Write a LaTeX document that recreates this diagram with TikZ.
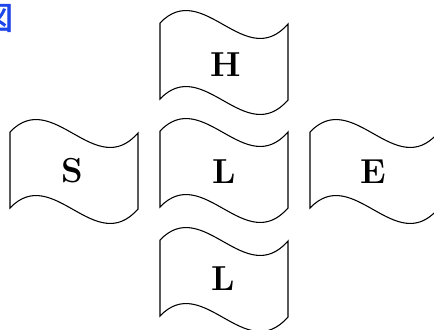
\documentclass[tikz,border=0pt]{standalone}
\usepackage{fontspec}
\newfontfamily\cjk[FakeBold=2]{Noto Sans CJK JP}
\usepackage{xcolor}
\definecolor{figblue}{RGB}{30,70,235}

\begin{document}
\begin{tikzpicture}[x=0.75pt,y=0.75pt,yscale=-1,xscale=1,
  flagline/.style={line width=0.8pt},
  flagtext/.style={inner sep=0.75pt, font=\bfseries\fontsize{26}{28}\selectfont}]
\useasboundingbox (0,0) rectangle (434,329);

%Shape: Wave [id:flagH]
\draw [flagline] (160,23) .. controls (203,-22) and (245,73) .. (288,24) -- (288,100) .. controls (245,149) and (203,54) .. (160,99) -- cycle ;
%Shape: Wave [id:flagS]
\draw [flagline] (10,132) .. controls (53,87) and (95,182) .. (138,133) -- (138,209) .. controls (95,258) and (53,163) .. (10,208) -- cycle ;
%Shape: Wave [id:flagLmid]
\draw [flagline] (160,131) .. controls (203,86) and (245,181) .. (288,132) -- (288,208) .. controls (245,257) and (203,162) .. (160,207) -- cycle ;
%Shape: Wave [id:flagE]
\draw [flagline] (310,132) .. controls (353,87) and (395,182) .. (438,133) -- (438,209) .. controls (395,258) and (353,163) .. (310,208) -- cycle ;
%Shape: Wave [id:flagLbot]
\draw [flagline] (160,240) .. controls (203,195) and (245,290) .. (288,241) -- (288,317) .. controls (245,366) and (203,271) .. (160,316) -- cycle ;

% Text Node
\draw (-3,18) node (fig) [inner sep=0pt, text=figblue, font=\cjk\fontsize{24}{24}\selectfont] {図};
% Text Node
\draw (226,65) node (H) [flagtext] {H};
% Text Node
\draw (72,171) node (S) [flagtext] {S};
% Text Node
\draw (224,172) node (Lmid) [flagtext] {L};
% Text Node
\draw (373,172) node (E) [flagtext] {E};
% Text Node
\draw (223,279) node (Lbot) [flagtext] {L};

\end{tikzpicture}
\end{document}
